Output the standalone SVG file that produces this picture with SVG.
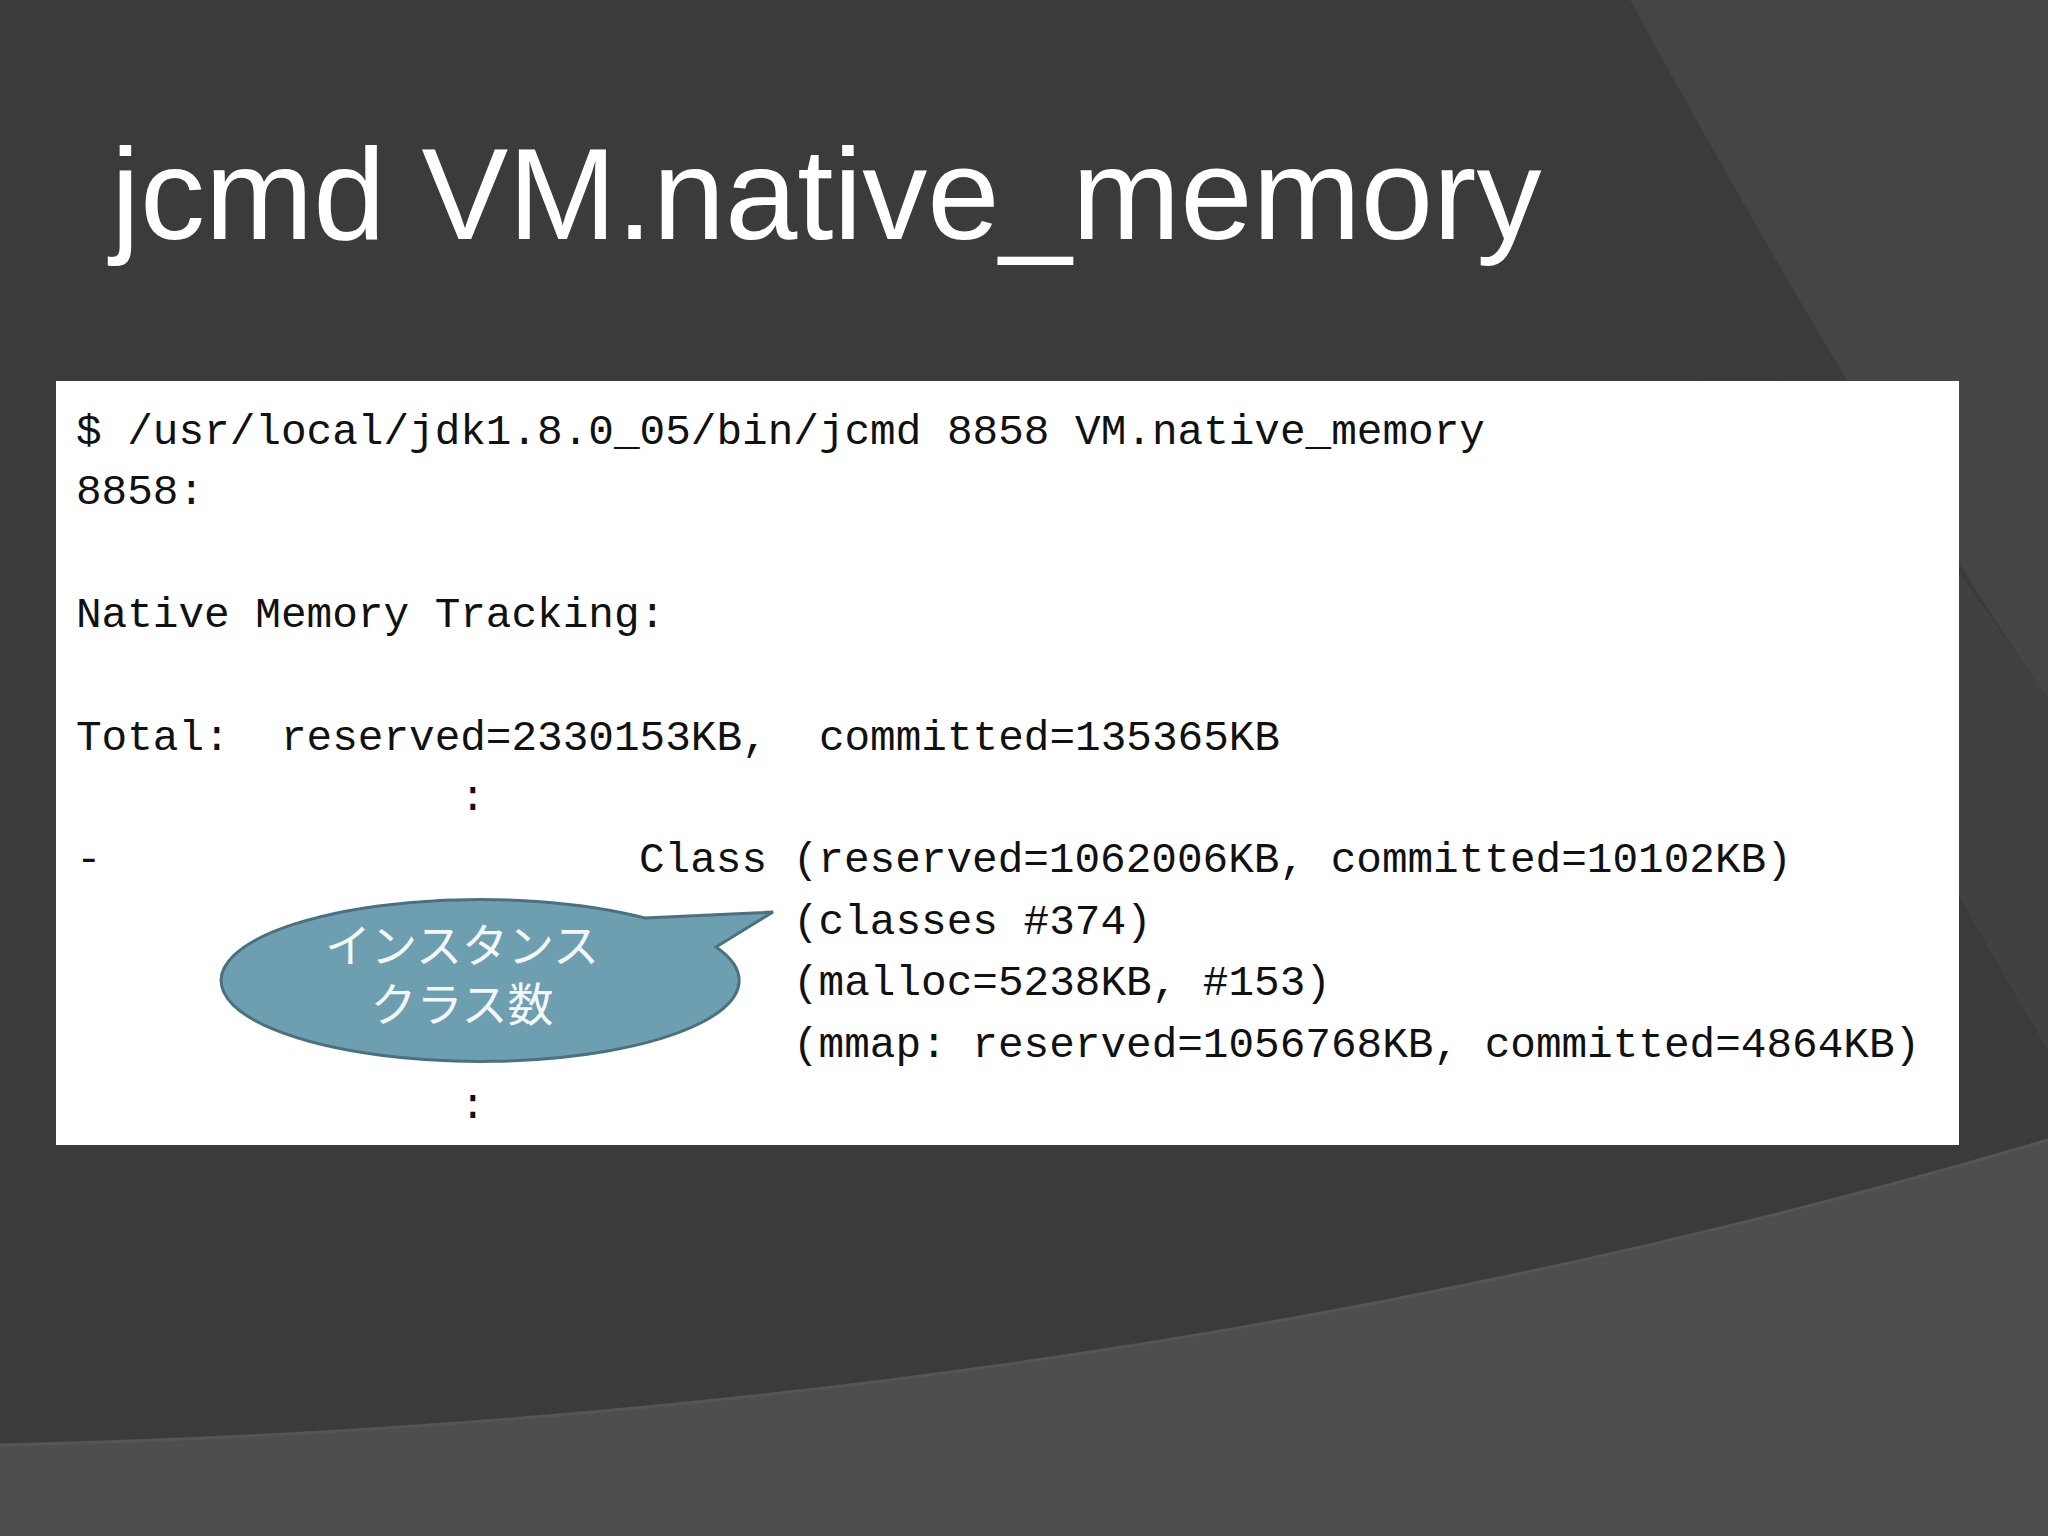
<svg xmlns="http://www.w3.org/2000/svg" width="2048" height="1536" viewBox="0 0 2048 1536">
<style>
.m{font-family:"Liberation Mono","Noto Sans CJK JP",monospace;font-size:42.7px;fill:#111;white-space:pre}
.c{font-family:"Noto Sans CJK JP",sans-serif;font-size:46px;fill:#f4f7f8;text-anchor:middle}
</style>
<rect width="2048" height="1536" fill="#3b3a3c"/>
<path d="M1630,0 Q1860,420 2048,700 L2048,0 Z" fill="#454447"/>
<path d="M1700,380 Q1840,700 2048,1050 L2048,700 Q1860,420 1780,380 Z" fill="#414043"/>
<path d="M0,1445 Q1100,1420 2048,1140 L2048,1536 L0,1536 Z" fill="#4e4d50"/>
<path d="M0,1445 Q1100,1420 2048,1140" fill="none" stroke="#555457" stroke-width="3"/>
<text x="111" y="239" font-family="Liberation Sans,Arial,sans-serif" font-size="130" fill="#ffffff">jcmd VM.native_memory</text>
<g id="console">
<rect x="56" y="381" width="1903" height="764" fill="#ffffff"/>
<text class="m" xml:space="preserve" x="76" y="444">$ /usr/local/jdk1.8.0_05/bin/jcmd 8858 VM.native_memory</text>
<text class="m" x="76" y="504">8858:</text>
<text class="m" x="76" y="627">Native Memory Tracking:</text>
<text class="m" xml:space="preserve" x="76" y="750">Total:  reserved=2330153KB,  committed=135365KB</text>
<text class="m" x="460" y="810">:</text>
<text class="m" x="76" y="872">-</text>
<text class="m" x="639" y="872">Class (reserved=1062006KB, committed=10102KB)</text>
<text class="m" x="793" y="934">(classes #374)</text>
<text class="m" x="793" y="995">(malloc=5238KB, #153)</text>
<text class="m" x="793" y="1057">(mmap: reserved=1056768KB, committed=4864KB)</text>
<text class="m" x="460" y="1118">:</text>
</g>
<g id="callout">
<path d="M645,918 L773,912 L716,947 A259,81 0 1 1 645,918 Z" fill="#6e9fb0" stroke="#4b7080" stroke-width="3"/>
<text class="c" x="462" y="962">インスタンス</text>
<text class="c" x="462" y="1021">クラス数</text>
</g>
</svg>
